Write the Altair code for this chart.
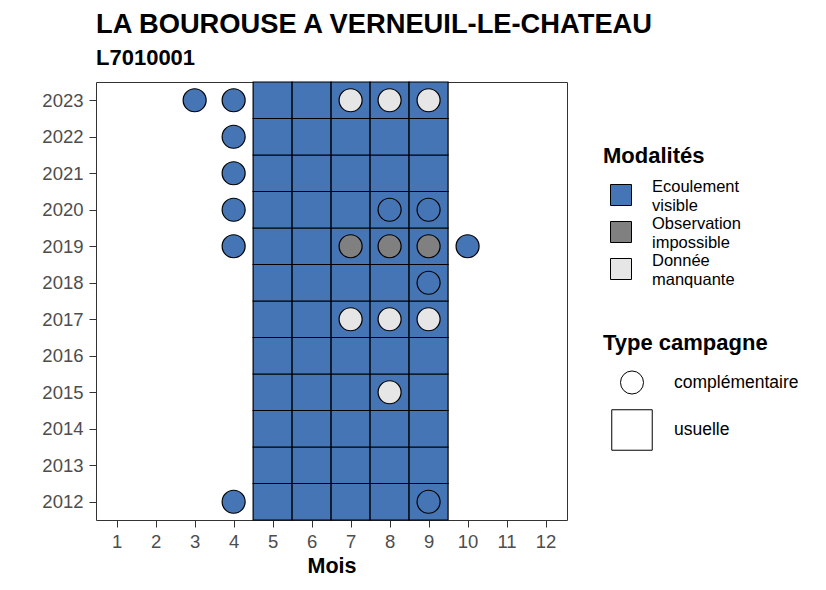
import altair as alt
import pandas as pd

# ---- data ----
years = list(range(2012, 2024))
usual_months = [5, 6, 7, 8, 9]
usual_modality = ["Ecoulement visible"] * len(years)  # one per year, same for all usual months

comp_years = [2023, 2023, 2023, 2023, 2023, 2022, 2021, 2020, 2020, 2020,
              2019, 2019, 2019, 2019, 2019, 2018, 2017, 2017, 2017, 2015, 2012, 2012]
comp_months = [3, 4, 7, 8, 9, 4, 4, 4, 8, 9,
               4, 7, 8, 9, 10, 9, 7, 8, 9, 8, 4, 9]
comp_modality = ["Ecoulement visible", "Ecoulement visible", "Donnée manquante", "Donnée manquante", "Donnée manquante",
                 "Ecoulement visible", "Ecoulement visible",
                 "Ecoulement visible", "Ecoulement visible", "Ecoulement visible",
                 "Ecoulement visible", "Observation impossible", "Observation impossible", "Observation impossible",
                 "Ecoulement visible", "Ecoulement visible",
                 "Donnée manquante", "Donnée manquante", "Donnée manquante",
                 "Donnée manquante", "Ecoulement visible", "Ecoulement visible"]

modalities = ["Ecoulement visible", "Observation impossible", "Donnée manquante"]
modality_colors = ["#4575b4", "#808080", "#e6e6e6"]
campaign_types = ["complémentaire", "usuelle"]
month_ticks = list(range(1, 13))

tiles = pd.DataFrame(
    [{"annee": y, "mois": m, "modalite": usual_modality[i], "type": "usuelle"}
     for i, y in enumerate(years) for m in usual_months]
)
comp = pd.DataFrame({"annee": comp_years, "mois": comp_months,
                     "modalite": comp_modality, "type": "complémentaire"})

FONT = "Liberation Sans"

x_scale = alt.Scale(domain=[0.47, 12.55], nice=False, zero=False)
y_scale = alt.Scale(domain=[2011.5, 2023.5], nice=False, zero=False)
x_axis = alt.Axis(values=month_ticks, title="Mois", format="d", labelOverlap=False)
y_axis = alt.Axis(values=years, title=None, format="d", labelOverlap=False)

fill_enc = alt.Fill(
    "modalite:N",
    scale=alt.Scale(domain=modalities, range=modality_colors),
    legend=alt.Legend(
        title="Modalités", orient="none", legendX=507, legendY=64,
        symbolType="square", symbolSize=441, symbolStrokeColor="black",
        symbolStrokeWidth=1, symbolOpacity=1, symbolOffset=7,
        labelExpr="split(datum.label, ' ')", labelFontSize=16.5,
        labelBaseline="bottom",
        labelOffset=20, rowPadding=2, titlePadding=16,
    ),
)

rects = alt.Chart(tiles).transform_calculate(
    x1="datum.mois - 0.5", x2="datum.mois + 0.5",
    y1="datum.annee - 0.5", y2="datum.annee + 0.5",
).mark_rect(stroke="black", strokeWidth=1.2, opacity=1).encode(
    x=alt.X("x1:Q", scale=x_scale, axis=x_axis),
    x2="x2:Q",
    y=alt.Y("y1:Q", scale=y_scale, axis=y_axis),
    y2="y2:Q",
    fill=fill_enc,
)

type_legend = alt.Legend(
    title="Type campagne", orient="none", legendX=507, legendY=251,
    symbolFillColor="white", symbolStrokeColor="black", symbolStrokeWidth=1,
    symbolOpacity=1, symbolOffset=8, labelFontSize=17.5, labelOffset=21,
    rowPadding=10, titlePadding=15,
)

points = alt.Chart(comp).mark_point(
    filled=True, stroke="black", strokeWidth=1.2, opacity=1
).encode(
    x=alt.X("mois:Q", scale=x_scale, axis=x_axis),
    y=alt.Y("annee:Q", scale=y_scale, axis=y_axis),
    fill=alt.Fill("modalite:N", scale=alt.Scale(domain=modalities, range=modality_colors)),
    shape=alt.Shape("type:N", scale=alt.Scale(domain=campaign_types, range=["circle", "square"]),
                    legend=type_legend),
    size=alt.Size("type:N", scale=alt.Scale(type="ordinal", domain=campaign_types, range=[530, 1640]),
                  legend=type_legend),
)

chart = alt.layer(rects, points).properties(
    width=471, height=438,
    autosize=alt.AutoSizeParams(type="none"),
    padding={"left": 96, "top": 82, "right": 259, "bottom": 70},
    title=alt.TitleParams(
        text="LA BOUROUSE A VERNEUIL-LE-CHATEAU",
        subtitle="L7010001",
        anchor="start", frame="group",
        font=FONT, fontSize=27.3, fontWeight="bold", color="black",
        subtitleFont=FONT, subtitleFontSize=22, subtitleFontWeight="bold",
        subtitleColor="black", subtitlePadding=10, offset=12,
    ),
).configure_view(
    stroke="#333333", strokeWidth=1
).configure_axis(
    labelFont=FONT, labelFontSize=18.5, labelColor="#4d4d4d", labelOverlap=False,
    tickColor="#333333", tickSize=7, tickWidth=1, domain=False, grid=False,
    titleFont=FONT, titleFontSize=21.5, titleFontWeight="bold", titleColor="black",
).configure_axisX(
    labelPadding=5, titlePadding=5
).configure_axisY(
    labelPadding=6
).configure_legend(
    titleFont=FONT, titleFontSize=22, titleFontWeight="bold", titleColor="black",
    labelFont=FONT, labelColor="black",
)

chart.save("out.html", embed_options={"renderer": "svg", "actions": False})
